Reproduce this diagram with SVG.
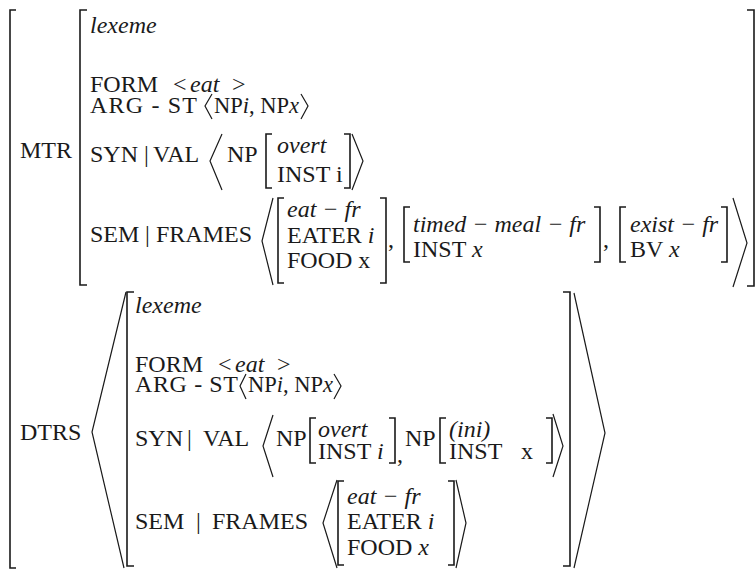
<svg xmlns="http://www.w3.org/2000/svg" width="756" height="570" viewBox="0 0 756 570">
<style>
.t{font-family:"Liberation Serif","Times New Roman",serif;font-size:24px;fill:#1a1a1a}
.i{font-style:italic}
.n{font-size:22.5px}
.b{fill:none;stroke:#1a1a1a;stroke-width:1.6}
.a{fill:none;stroke:#1a1a1a;stroke-width:1.2}
</style>
<rect width="756" height="570" fill="#ffffff"/>
<g id="outer">
<path class="b" d="M16,10 H10 V568 H16"/>
</g>
<g id="mtr">
<text class="t" x="20" y="158">MTR</text>
<path class="b" d="M87,10 H80 V285 H87"/>
<path class="b" d="M747,10 H754 V286 H747"/>
<text class="t i" x="90" y="33">lexeme</text>
<text class="t" x="90" y="92">FORM</text>
<text class="t" x="173" y="92">&lt;</text>
<text class="t i" x="190" y="92">eat</text>
<text class="t" x="232" y="92">&gt;</text>
<text class="t" x="90" y="113" textLength="107" lengthAdjust="spacing">ARG - ST</text>
<path class="a" d="M212,94 L205,106 L212,119"/>
<text class="t n" x="214" y="113">NP<tspan class="i">i</tspan>, NP<tspan class="i">x</tspan></text>
<path class="a" d="M301,94 L308,106 L301,119"/>
<text class="t" x="90" y="162">SYN</text>
<text class="t" x="144" y="162">|</text>
<text class="t" x="153" y="162">VAL</text>
<path class="a" d="M222,134 L210,161 L222,190"/>
<text class="t" x="227" y="162">NP</text>
<path class="b" d="M272,134 H266 V188 H272"/>
<text class="t i" x="277" y="153">overt</text>
<text class="t" x="277" y="182">INST i</text>
<path class="b" d="M344,134 H350 V188 H344"/>
<path class="a" d="M352,134 L363,161 L352,190"/>
<text class="t" x="90" y="242">SEM</text>
<text class="t" x="145" y="242">|</text>
<text class="t" x="156" y="242">FRAMES</text>
<path class="a" d="M273,198 L262,241 L273,285"/>
<path class="b" d="M284,198 H278 V283 H284"/>
<text class="t i" x="287" y="217">eat − fr</text>
<text class="t" x="287" y="243">EATER <tspan class="i">i</tspan></text>
<text class="t" x="287" y="268">FOOD x</text>
<path class="b" d="M380,198 H386 V283 H380"/>
<text class="t" x="388" y="247">,</text>
<path class="b" d="M410,207 H404 V262 H410"/>
<text class="t i" x="413" y="232">timed − meal − fr</text>
<text class="t" x="413" y="257">INST <tspan class="i">x</tspan></text>
<path class="b" d="M594,207 H600 V262 H594"/>
<text class="t" x="603" y="247">,</text>
<path class="b" d="M626,207 H620 V262 H626"/>
<text class="t i" x="630" y="232">exist − fr</text>
<text class="t" x="630" y="257">BV <tspan class="i">x</tspan></text>
<path class="b" d="M721,207 H727 V262 H721"/>
<path class="a" d="M733,198 L747,243 L733,287"/>
</g>
<g id="dtrs">
<text class="t" x="20" y="440">DTRS</text>
<path class="a" d="M126,292 L92,432 L124,568"/>
<path class="b" d="M134,292 H127 V566 H134"/>
<path class="b" d="M563,292 H570 V566 H563"/>
<path class="a" d="M574,293 L605,433 L574,568"/>
<text class="t i" x="135" y="313">lexeme</text>
<text class="t" x="135" y="372">FORM</text>
<text class="t" x="218" y="372">&lt;</text>
<text class="t i" x="235" y="372">eat</text>
<text class="t" x="277" y="372">&gt;</text>
<text class="t" x="135" y="392" textLength="103" lengthAdjust="spacing">ARG - ST</text>
<path class="a" d="M246,374 L240,386 L246,399"/>
<text class="t n" x="248" y="392">NP<tspan class="i">i</tspan>, NP<tspan class="i">x</tspan></text>
<path class="a" d="M334,374 L341,386 L334,399"/>
<text class="t" x="135" y="446">SYN</text>
<text class="t" x="187" y="446">|</text>
<text class="t" x="203" y="446">VAL</text>
<path class="a" d="M273,415 L263,446 L273,477"/>
<text class="t" x="276" y="446">NP</text>
<path class="b" d="M316,418 H310 V463 H316"/>
<text class="t i" x="318" y="437">overt</text>
<text class="t" x="318" y="459">INST <tspan class="i">i</tspan></text>
<path class="b" d="M389,418 H395 V463 H389"/>
<text class="t" x="397" y="462">,</text>
<text class="t" x="405" y="446">NP</text>
<path class="b" d="M446,418 H440 V463 H446"/>
<text class="t i" x="449" y="437">(ini)</text>
<text class="t" x="449" y="459">INST<tspan x="521">x</tspan></text>
<path class="b" d="M546,418 H552 V463 H546"/>
<path class="a" d="M553,414 L563,446 L553,477"/>
<text class="t" x="135" y="529">SEM</text>
<text class="t" x="196" y="529">|</text>
<text class="t" x="212" y="529">FRAMES</text>
<path class="a" d="M337,480 L323,523 L337,568"/>
<path class="b" d="M344,481 H338 V565 H344"/>
<text class="t i" x="347" y="504">eat − fr</text>
<text class="t" x="347" y="529">EATER <tspan class="i">i</tspan></text>
<text class="t" x="347" y="555">FOOD <tspan class="i">x</tspan></text>
<path class="b" d="M448,481 H454 V565 H448"/>
<path class="a" d="M456,480 L466,523 L456,568"/>
</g>
</svg>
